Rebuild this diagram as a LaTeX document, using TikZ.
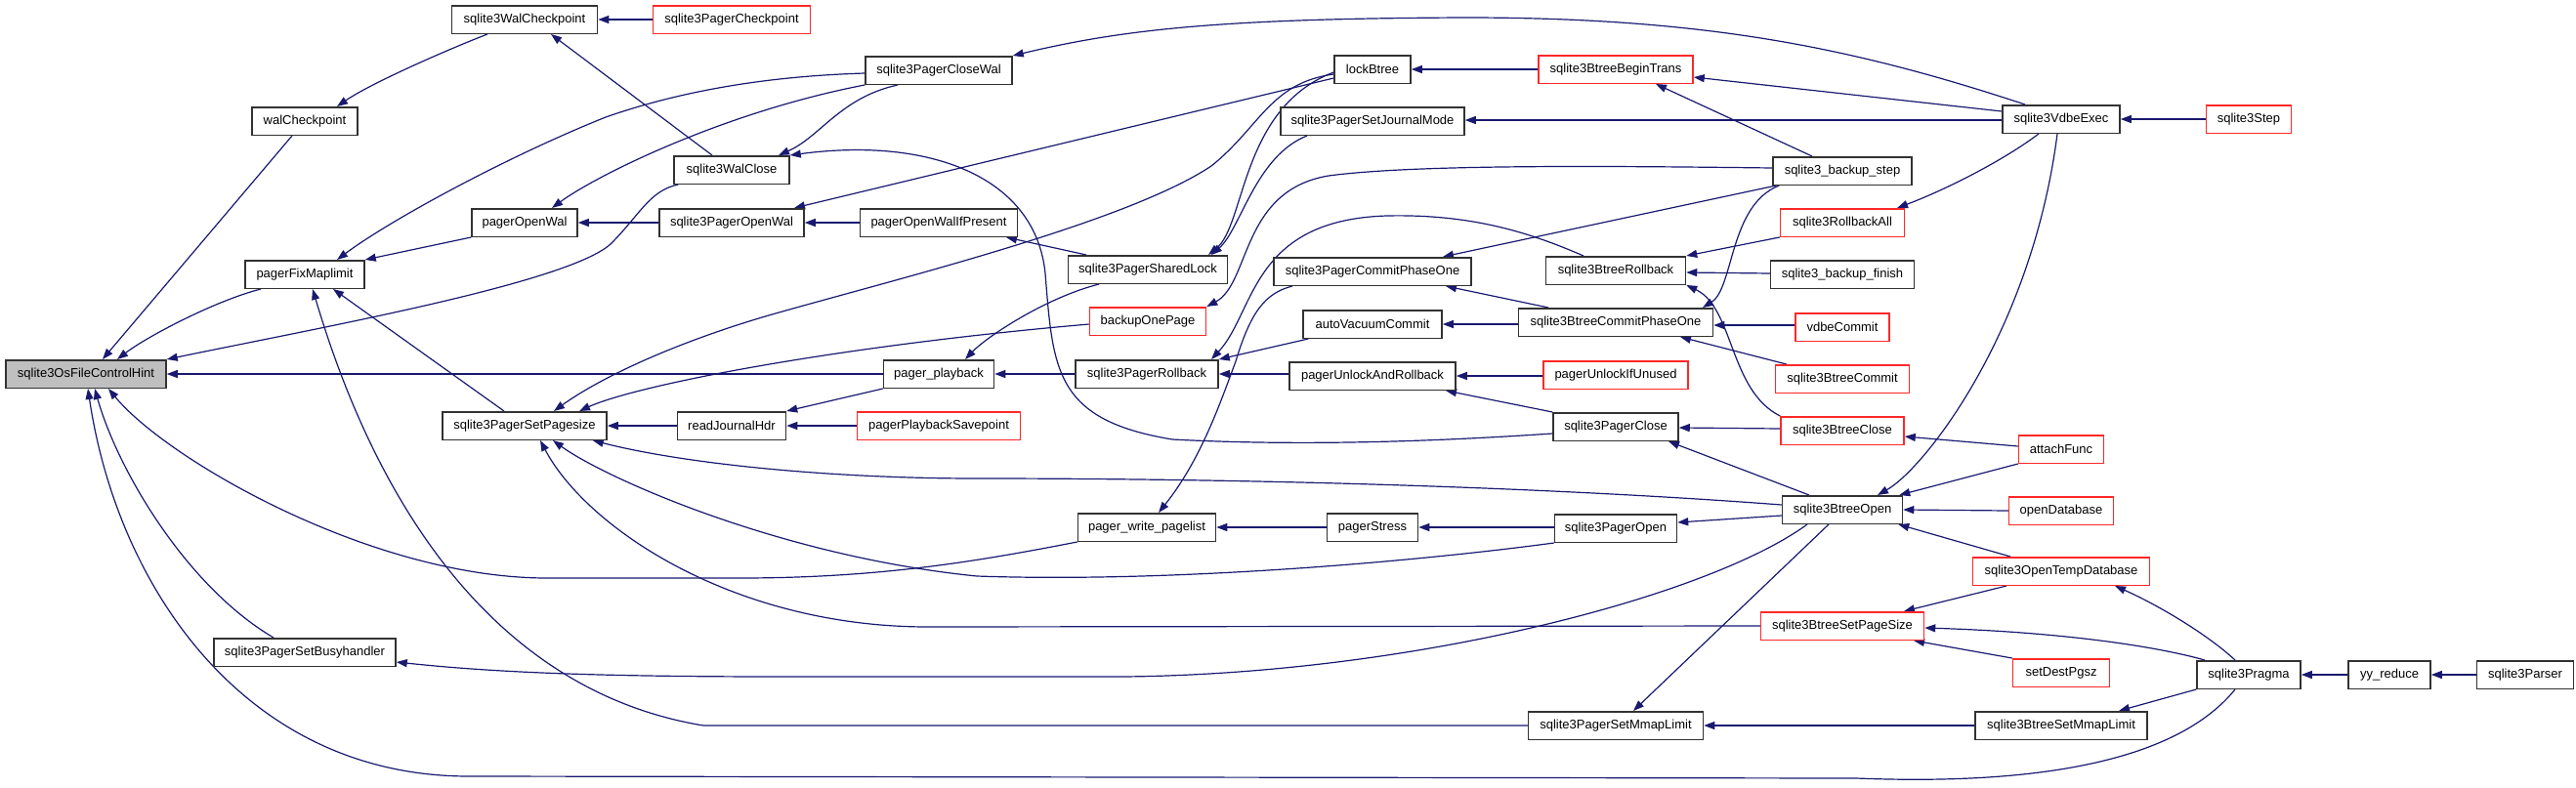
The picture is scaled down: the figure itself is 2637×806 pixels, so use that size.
\documentclass[tikz,border=0pt]{standalone}
\usepackage{fontspec}
\setmainfont{Liberation Sans}
\usetikzlibrary{arrows.meta}
\definecolor{edgecol}{RGB}{25,25,112}
\definecolor{nodeborder}{RGB}{50,50,50}
\definecolor{nodered}{RGB}{255,40,40}
\pgfdeclarelayer{bg}
\pgfsetlayers{bg,main}
\begin{document}
\begin{tikzpicture}[x=1pt,y=-1pt,
  fn/.style={draw=nodeborder, line width=1.5pt, fill=white, minimum height=28.5pt, inner sep=0pt, font=\fontsize{13}{15}\selectfont},
  fnred/.style={fn, draw=nodered},
  edge/.style={draw=edgecol, line width=1.2pt, {Triangle[length=11pt,width=8pt]}-}]
\useasboundingbox (0,0) rectangle (2637,806);
\node[fn,fill=gray!50,minimum width=164pt] (osfch) at (88,383) {sqlite3OsFileControlHint};
\node[fn,minimum width=108pt] (walcp) at (312,124) {walCheckpoint};
\node[fn,minimum width=122pt] (pfm) at (312,281) {pagerFixMaplimit};
\node[fn,minimum width=186pt] (busy) at (312,668) {sqlite3PagerSetBusyhandler};
\node[fn,minimum width=149pt] (swcp) at (537,20) {sqlite3WalCheckpoint};
\node[fn,minimum width=108pt] (pow) at (537,228) {pagerOpenWal};
\node[fn,minimum width=168pt] (psps) at (537,436) {sqlite3PagerSetPagesize};
\node[fnred,minimum width=161pt] (pcp) at (749,20) {sqlite3PagerCheckpoint};
\node[fn,minimum width=118pt] (wclose) at (749,174) {sqlite3WalClose};
\node[fn,minimum width=148pt] (spow) at (749,228) {sqlite3PagerOpenWal};
\node[fn,minimum width=111pt] (rjh) at (749,436) {readJournalHdr};
\node[fn,minimum width=150pt] (pcw) at (961,72) {sqlite3PagerCloseWal};
\node[fn,minimum width=161pt] (powip) at (961,228) {pagerOpenWalIfPresent};
\node[fn,minimum width=113pt] (pplay) at (961,383) {pager\_playback};
\node[fnred,minimum width=167pt] (ppsp) at (961,436) {pagerPlaybackSavepoint};
\node[fn,minimum width=163pt] (shl) at (1175,276) {sqlite3PagerSharedLock};
\node[fnred,minimum width=119pt] (bop) at (1175,329) {backupOnePage};
\node[fn,minimum width=146pt] (prb) at (1174,383) {sqlite3PagerRollback};
\node[fn,minimum width=141pt] (pwp) at (1174,540) {pager\_write\_pagelist};
\node[fn,minimum width=78pt] (lockb) at (1405,71) {lockBtree};
\node[fn,minimum width=188pt] (sjm) at (1405,124) {sqlite3PagerSetJournalMode};
\node[fn,minimum width=202pt] (pcpo) at (1405,278) {sqlite3PagerCommitPhaseOne};
\node[fn,minimum width=142pt] (avc) at (1405,332) {autoVacuumCommit};
\node[fn,minimum width=170pt] (puar) at (1405,385) {pagerUnlockAndRollback};
\node[fn,minimum width=93pt] (pstress) at (1405,540) {pagerStress};
\node[fnred,minimum width=158pt] (bbt) at (1654,71) {sqlite3BtreeBeginTrans};
\node[fn,minimum width=143pt] (brb) at (1654,277) {sqlite3BtreeRollback};
\node[fn,minimum width=199pt] (bcpo) at (1654,330) {sqlite3BtreeCommitPhaseOne};
\node[fnred,minimum width=148pt] (puiu) at (1654,384) {pagerUnlockIfUnused};
\node[fn,minimum width=128pt] (pclose) at (1654,437) {sqlite3PagerClose};
\node[fn,minimum width=125pt] (popen) at (1654,541) {sqlite3PagerOpen};
\node[fn,minimum width=179pt] (psml) at (1654,743) {sqlite3PagerSetMmapLimit};
\node[fn,minimum width=142pt] (bstep) at (1886,175) {sqlite3\_backup\_step};
\node[fnred,minimum width=127pt] (rball) at (1886,228) {sqlite3RollbackAll};
\node[fn,minimum width=147pt] (bfin) at (1886,281) {sqlite3\_backup\_finish};
\node[fnred,minimum width=96pt] (vdbec) at (1886,335) {vdbeCommit};
\node[fnred,minimum width=137pt] (bcommit) at (1886,388) {sqlite3BtreeCommit};
\node[fnred,minimum width=126pt] (bclose) at (1886,441) {sqlite3BtreeClose};
\node[fn,minimum width=123pt] (bopen) at (1886,522) {sqlite3BtreeOpen};
\node[fnred,minimum width=167pt] (bsps) at (1886,641) {sqlite3BtreeSetPageSize};
\node[fn,minimum width=120pt] (vexec) at (2110,122) {sqlite3VdbeExec};
\node[fnred,minimum width=87pt] (attach) at (2110,460) {attachFunc};
\node[fnred,minimum width=107pt] (opendb) at (2110,523) {openDatabase};
\node[fnred,minimum width=181pt] (otd) at (2110,585) {sqlite3OpenTempDatabase};
\node[fnred,minimum width=99pt] (sdp) at (2110,689) {setDestPgsz};
\node[fn,minimum width=176pt] (bsml) at (2110,743) {sqlite3BtreeSetMmapLimit};
\node[fnred,minimum width=87pt] (step) at (2302,122) {sqlite3Step};
\node[fn,minimum width=106pt] (pragma) at (2302,691) {sqlite3Pragma};
\node[fn,minimum width=84pt] (yyr) at (2446,691) {yy\_reduce};
\node[fn,minimum width=99pt] (parser) at (2585,691) {sqlite3Parser};
\begin{pgfonlayer}{bg}
\draw[edge] ([xshift=17pt]osfch.north) -- ([xshift=-13pt]walcp.south);
\draw[edge] ([xshift=32pt]osfch.north) .. controls (150,345) and (220,308) .. ([xshift=-45pt]pfm.south);
\draw[edge] (osfch.north east) .. controls (330,335) and (580,290) .. (625,250) .. controls (655,220) and (665,195) .. ([xshift=5pt]wclose.south west);
\draw[edge] (osfch.east) -- (pplay.west);
\draw[edge] ([xshift=23pt]osfch.south) .. controls (170,470) and (380,592) .. (560,592) -- (757,592) .. controls (900,592) and (1000,575) .. (pwp.south west);
\draw[edge] ([xshift=9pt]osfch.south) .. controls (120,480) and (190,600) .. ([xshift=-32pt]busy.north);
\draw[edge] ([xshift=2pt]osfch.south) .. controls (120,600) and (250,795) .. (480,795) -- (1900,797) .. controls (2050,803) and (2220,790) .. ([xshift=-14pt]pragma.south);
\draw[edge] ([xshift=33pt]walcp.north) .. controls (380,85) and (460,50) .. ([xshift=-38pt]swcp.south);
\draw[edge] (swcp.east) -- (pcp.west);
\draw[edge] ([xshift=27pt]swcp.south) -- ([xshift=-20pt]wclose.north);
\draw[edge] ([xshift=33pt]pfm.north) .. controls (400,225) and (520,160) .. (620,120) .. controls (720,85) and (820,77) .. ([yshift=-3pt]pcw.west);
\draw[edge] (pfm.north east) -- (pow.south west);
\draw[edge] ([xshift=29pt]pfm.south) -- ([xshift=-21pt]psps.north);
\draw[edge] ([xshift=8pt]pfm.south) .. controls (360,430) and (460,700) .. (720,743) -- (psml.west);
\draw[edge] ([xshift=28pt]pow.north) .. controls (610,180) and (740,115) .. (pcw.south west);
\draw[edge] (pow.east) -- (spow.west);
\draw[edge] ([xshift=30pt]psps.north) .. controls (610,390) and (680,355) .. (780,325) .. controls (900,290) and (1150,230) .. (1240,170) .. controls (1290,130) and (1300,85) .. ([yshift=-5pt]lockb.west);
\draw[edge] ([xshift=56pt]psps.north) .. controls (650,395) and (850,355) .. ([yshift=-3pt]bop.west);
\draw[edge] (psps.east) -- (rjh.west);
\draw[edge] ([xshift=-15pt]psps.south east) .. controls (700,475) and (850,490) .. (1000,490) .. controls (1300,490) and (1600,500) .. ([yshift=5pt]bopen.west);
\draw[edge] ([xshift=29pt]psps.south) .. controls (620,490) and (800,570) .. (1000,590) .. controls (1200,597) and (1450,575) .. (popen.south west);
\draw[edge] ([xshift=16pt]psps.south) .. controls (600,540) and (750,642) .. (950,642) -- (bsps.west);
\draw[edge] ([yshift=-10pt]busy.east) .. controls (500,688) and (600,693) .. (800,693) -- (1150,693) .. controls (1450,690) and (1750,610) .. ([xshift=-36pt]bopen.south);
\draw[edge] ([xshift=48pt]wclose.north) .. controls (840,140) and (860,100) .. ([xshift=-42pt]pcw.south);
\draw[edge] (wclose.north east) .. controls (950,140) and (1060,180) .. (1070,280) .. controls (1078,380) and (1080,430) .. (1200,450) .. controls (1350,458) and (1500,450) .. ([yshift=-7pt]pclose.west);
\draw[edge] ([xshift=64pt]spow.north) -- ([yshift=-9pt]lockb.west);
\draw[edge] (spow.east) -- (powip.west);
\draw[edge] (rjh.north east) -- (pplay.south west);
\draw[edge] (rjh.east) -- (ppsp.west);
\draw[edge] (pcw.north east) .. controls (1150,30) and (1250,19) .. (1500,18) .. controls (1750,18) and (1900,50) .. ([xshift=-37pt]vexec.north);
\draw[edge] ([xshift=69pt]powip.south) -- ([xshift=-63pt]shl.north);
\draw[edge] ([xshift=27pt]pplay.north) .. controls (1010,345) and (1070,305) .. ([xshift=-50pt]shl.south);
\draw[edge] (pplay.east) -- (prb.west);
\draw[edge] ([xshift=62pt]shl.north) .. controls (1275,230) and (1270,110) .. ([yshift=-3pt]lockb.west);
\draw[edge] ([xshift=65pt]shl.north) .. controls (1270,235) and (1285,160) .. ([xshift=-67pt]sjm.south);
\draw[edge] (bop.north east) .. controls (1280,290) and (1270,195) .. (1360,180) .. controls (1450,168) and (1650,170) .. ([yshift=3pt]bstep.west);
\draw[edge] ([xshift=66pt]prb.north) .. controls (1285,320) and (1280,225) .. (1420,221) .. controls (1510,219) and (1570,240) .. ([xshift=-33pt]brb.north);
\draw[edge] (prb.north east) -- ([xshift=6pt]avc.south west);
\draw[edge] (prb.east) -- ([yshift=2pt]puar.west);
\draw[edge] ([xshift=12pt]pwp.north) .. controls (1230,470) and (1250,410) .. (1265,370) .. controls (1280,320) and (1295,300) .. ([xshift=-82pt]pcpo.south);
\draw[edge] (pwp.east) -- (pstress.west);
\draw[edge] (lockb.east) -- (bbt.west);
\draw[edge] ([yshift=1pt]sjm.east) -- ([yshift=-1pt]vexec.west);
\draw[edge] ([xshift=72pt]pcpo.north) -- ([xshift=4pt]bstep.south west);
\draw[edge] ([xshift=75pt]pcpo.south) -- ([xshift=-69pt]bcpo.north);
\draw[edge] (avc.east) -- ([yshift=-2pt]bcpo.west);
\draw[edge] (puar.east) -- ([yshift=-1pt]puiu.west);
\draw[edge] ([xshift=75pt]puar.south) -- (pclose.north west);
\draw[edge] (pstress.east) -- ([yshift=1pt]popen.west);
\draw[edge] ([yshift=-8pt]bbt.east) -- ([yshift=8pt]vexec.west);
\draw[edge] ([xshift=41pt]bbt.south) -- ([xshift=-31pt]bstep.north);
\draw[edge] (brb.north east) -- (rball.south west);
\draw[edge] ([yshift=-2pt]brb.east) -- ([yshift=1pt]bfin.west);
\draw[edge] (brb.south east) .. controls (1775,315) and (1770,400) .. (bclose.north west);
\draw[edge] ([xshift=89pt]bcpo.north) .. controls (1775,295) and (1770,210) .. ([xshift=7pt]bstep.south west);
\draw[edge] ([yshift=-3pt]bcpo.east) -- ([yshift=2pt]vdbec.west);
\draw[edge] ([xshift=66pt]bcpo.south) -- ([xshift=12pt]bcommit.north west);
\draw[edge] ([yshift=-1pt]pclose.east) -- ([yshift=2pt]bclose.west);
\draw[edge] ([xshift=54pt]pclose.south) -- ([xshift=-34pt]bopen.north);
\draw[edge] ([yshift=6pt]popen.east) -- ([yshift=-6pt]bopen.west);
\draw[edge] ([xshift=18pt]psml.north) -- ([xshift=-14pt]bopen.south);
\draw[edge] (psml.east) -- (bsml.west);
\draw[edge] ([xshift=56pt]rball.north) .. controls (1990,195) and (2050,165) .. ([xshift=-23pt]vexec.south);
\draw[edge] ([yshift=-6pt]bclose.east) -- ([yshift=3pt]attach.west);
\draw[edge] ([xshift=36pt]bopen.north) .. controls (1970,480) and (2080,340) .. ([xshift=-4pt]vexec.south);
\draw[edge] ([xshift=-4pt]bopen.north east) -- (attach.south west);
\draw[edge] (bopen.east) -- (opendb.west);
\draw[edge] ([xshift=-5pt]bopen.south east) -- ([xshift=-52pt]otd.north);
\draw[edge] ([xshift=63pt]bsps.north) -- ([xshift=-56pt]otd.south);
\draw[edge] ([yshift=-2pt]bsps.east) .. controls (2100,647) and (2200,660) .. ([xshift=-45pt]pragma.north);
\draw[edge] ([xshift=73pt]bsps.south) -- (sdp.north west);
\draw[edge] (vexec.east) -- (step.west);
\draw[edge] ([xshift=55pt]otd.south) .. controls (2210,620) and (2260,650) .. ([xshift=-14pt]pragma.north);
\draw[edge] ([xshift=59pt]bsml.north) -- (pragma.south west);
\draw[edge] (pragma.east) -- (yyr.west);
\draw[edge] (yyr.east) -- (parser.west);
\end{pgfonlayer}
\end{tikzpicture}
\end{document}
